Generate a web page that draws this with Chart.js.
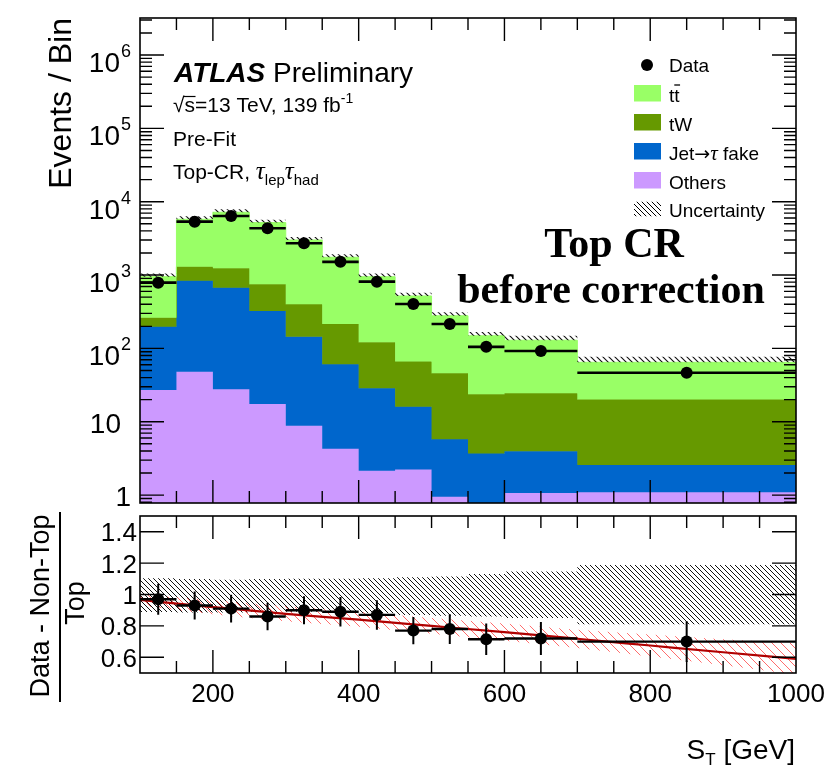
<!DOCTYPE html>
<html>
<head>
<meta charset="utf-8">
<script src="https://cdn.jsdelivr.net/npm/chart.js@4.4.1/dist/chart.umd.min.js"></script>
<style>
  html, body { margin: 0; padding: 0; background: #ffffff; }
  #wrap { position: relative; width: 835px; height: 768px; overflow: hidden; background: #ffffff; }
  #mainPanel { position: absolute; left: 0; top: 0; }
  #ratioPanel { position: absolute; left: 0; top: 510px; }
</style>
</head>
<body>
<div id="wrap">
  <canvas id="mainPanel" width="835" height="510"></canvas>
  <canvas id="ratioPanel" width="835" height="258"></canvas>
</div>
<script>
// ---- S_T binning (GeV) ----
const binEdges = [100, 150, 200, 250, 300, 350, 400, 450, 500, 550, 600, 700, 1000];

// ---- Event yields per bin ----
const dataYield   = [788, 5350, 6400, 4350, 2720, 1515, 813, 403, 215, 105, 92, 46.6];
const ttbarYield  = [688, 4470, 5950, 4440, 2611, 1535, 828, 453, 233, 125, 105, 44.5];
const tWYield     = [64, 461, 567, 425, 255, 154, 93, 50, 40, 20, 20.4, 17.6];
const fakeYield   = [171, 791, 645, 307, 135, 56.4, 26.5, 13.8, 4.8, 3.4, 2.9, 1.48];
const othersYield = [27, 48, 27.7, 17.4, 8.8, 4.3, 2.15, 2.24, 0.95, 0.3, 1.07, 1.09];

// ---- Relative MC uncertainty band (edges) ----
const uncBandLo = [0.889, 0.885, 0.885, 0.89, 0.89, 0.885, 0.88, 0.87, 0.865, 0.86, 0.85, 0.81];
const uncBandHi = [1.104, 1.098, 1.094, 1.098, 1.10, 1.10, 1.104, 1.11, 1.115, 1.13, 1.146, 1.188];

// ---- (Data - Non-Top) / Top ----
const ratioValues = [0.97, 0.93, 0.91, 0.86, 0.90, 0.89, 0.87, 0.77, 0.78, 0.715, 0.72, 0.70];
const ratioErrors = [0.099, 0.089, 0.089, 0.088, 0.089, 0.094, 0.094, 0.087, 0.095, 0.10, 0.105, 0.13];

// ---- Correction fit and its band ----
const fitX       = [100, 200, 300, 400, 500, 600, 700, 800, 900, 1000];
const fitValues  = [0.965, 0.92, 0.877, 0.84, 0.80, 0.76, 0.718, 0.675, 0.632, 0.59];
const fitBandLo  = [0.93, 0.875, 0.83, 0.795, 0.75, 0.705, 0.66, 0.605, 0.55, 0.49];
const fitBandHi  = [1.0, 0.965, 0.925, 0.89, 0.85, 0.815, 0.775, 0.745, 0.715, 0.69];

// ---- Axis ticks ----
const logDecades = [0, 1, 2, 3, 4, 5, 6];
const xTickLabels = [200, 400, 600, 800, 1000];
const ratioTickLabels = [0.6, 0.8, 1, 1.2, 1.4];

// ---- Colours ----
const colTtbar = '#99ff66';
const colTW = '#669900';
const colFake = '#0066cc';
const colOthers = '#cc99ff';

const SANS = '"Liberation Sans", Arial, Helvetica, sans-serif';
const SERIF = '"Liberation Serif", "Times New Roman", serif';

const nBins = dataYield.length;
const binCenters = binEdges.slice(0, -1).map((e, i) => (e + binEdges[i + 1]) / 2);

// cumulative stack boundaries
const stackOthers = othersYield.slice();
const stackFake = stackOthers.map((v, i) => v + fakeYield[i]);
const stackTW = stackFake.map((v, i) => v + tWYield[i]);
const stackTotal = stackTW.map((v, i) => v + ttbarYield[i]);

function stepLine(values) {
  const pts = values.map((v, i) => ({ x: binEdges[i], y: v }));
  pts.push({ x: binEdges[nBins], y: values[nBins - 1] });
  return pts;
}
function hBars(values) {
  const pts = [];
  values.forEach((v, i) => {
    pts.push({ x: binEdges[i], y: v }, { x: binEdges[i + 1], y: v }, { x: binEdges[i + 1], y: null });
  });
  return pts;
}
function vBars(values, errs) {
  const pts = [];
  values.forEach((v, i) => {
    pts.push({ x: binCenters[i], y: v - errs[i] }, { x: binCenters[i], y: v + errs[i] }, { x: binCenters[i], y: null });
  });
  return pts;
}

function makeHatch(ctx, size, color, lw) {
  const c = document.createElement('canvas');
  c.width = size; c.height = size;
  const g = c.getContext('2d');
  g.strokeStyle = color; g.lineWidth = lw;
  g.beginPath();
  g.moveTo(-1, -1); g.lineTo(size + 1, size + 1);
  g.moveTo(-1, size - 1); g.lineTo(1, size + 1);
  g.moveTo(size - 1, -1); g.lineTo(size + 1, 1);
  g.stroke();
  return ctx.createPattern(c, 'repeat');
}

// draw a run of text pieces with individual fonts / vertical offsets
function drawRich(ctx, x, y, parts, align) {
  ctx.save();
  ctx.textAlign = 'left';
  ctx.textBaseline = 'alphabetic';
  let total = 0;
  parts.forEach(p => { ctx.font = p.f; total += ctx.measureText(p.t).width + (p.dx || 0); });
  let cx = x;
  if (align === 'right') cx = x - total;
  else if (align === 'center') cx = x - total / 2;
  const spans = [];
  parts.forEach(p => {
    ctx.font = p.f;
    cx += (p.dx || 0);
    ctx.fillText(p.t, cx, y + (p.dy || 0));
    const w = ctx.measureText(p.t).width;
    spans.push({ x0: cx, x1: cx + w });
    cx += w;
  });
  ctx.restore();
  return spans;
}

function drawFrameTicks(ctx, area, xScale, yScale, yMajor, yMinor, lw) {
  ctx.save();
  ctx.strokeStyle = '#000';
  ctx.lineWidth = lw;
  ctx.beginPath();
  for (let v = 150; v < 1000; v += 50) {
    const px = xScale.getPixelForValue(v);
    const len = (v % 200 === 0) ? 23 : 12;
    ctx.moveTo(px, area.top); ctx.lineTo(px, area.top + len);
    ctx.moveTo(px, area.bottom); ctx.lineTo(px, area.bottom - len);
  }
  yMajor.forEach(v => {
    const py = yScale.getPixelForValue(v);
    ctx.moveTo(area.left, py); ctx.lineTo(area.left + 24, py);
    ctx.moveTo(area.right, py); ctx.lineTo(area.right - 24, py);
  });
  yMinor.forEach(v => {
    const py = yScale.getPixelForValue(v);
    ctx.moveTo(area.left, py); ctx.lineTo(area.left + 12, py);
    ctx.moveTo(area.right, py); ctx.lineTo(area.right - 12, py);
  });
  ctx.stroke();
  ctx.lineWidth = 1.6;
  ctx.strokeRect(area.left, area.top, area.right - area.left, area.bottom - area.top);
  ctx.restore();
}

// ================= Main (event yield) panel =================
const mainCanvas = document.getElementById('mainPanel');
const mainCtx = mainCanvas.getContext('2d');
const blackHatch = makeHatch(mainCtx, 5, '#000000', 1);
const sparseHatch = makeHatch(mainCtx, 6, '#111111', 1.1);

const mainDecor = {
  id: 'mainDecor',
  afterDraw(chart) {
    const ctx = chart.ctx;
    const area = chart.chartArea;
    const xs = chart.scales.x, ys = chart.scales.y;
    const majors = [], minors = [];
    for (let d = -1; d <= 6; d++) {
      const base = Math.pow(10, d);
      if (d >= 0) majors.push(base);
      for (let k = 2; k <= 9; k++) {
        const v = k * base;
        if (v >= ys.min && v <= ys.max) minors.push(v);
      }
    }
    drawFrameTicks(ctx, area, xs, ys, majors, minors, 1.4);

    // y tick labels
    ctx.save();
    ctx.fillStyle = '#000';
    logDecades.forEach(d => {
      const py = ys.getPixelForValue(Math.pow(10, d));
      if (d === 0) {
        drawRich(ctx, 131, py + 11, [{ t: '1', f: '28px ' + SANS }], 'right');
      } else if (d === 1) {
        drawRich(ctx, 121, py + 11, [{ t: '10', f: '28px ' + SANS }], 'right');
      } else {
        drawRich(ctx, 120, py + 17, [{ t: '10', f: '28px ' + SANS }], 'right');
        drawRich(ctx, 121, py + 2, [{ t: String(d), f: '18px ' + SANS }], 'left');
      }
    });

    // y axis title
    ctx.save();
    ctx.translate(71, 18);
    ctx.rotate(-Math.PI / 2);
    ctx.font = '32px ' + SANS;
    ctx.textAlign = 'right';
    ctx.textBaseline = 'alphabetic';
    ctx.fillText('Events / Bin', 0, 0);
    ctx.restore();

    // ATLAS label block
    drawRich(ctx, 174, 82, [
      { t: 'ATLAS', f: 'italic bold 28px ' + SANS },
      { t: ' Preliminary', f: '28px ' + SANS }
    ], 'left');
    const sp = drawRich(ctx, 173, 112, [
      { t: '\u221A', f: '21px ' + SANS },
      { t: 's', f: '21px ' + SANS },
      { t: '=13 TeV, 139 fb', f: '21px ' + SANS },
      { t: '-1', f: '14px ' + SANS, dy: -9 }
    ], 'left');
    ctx.lineWidth = 1.2;
    ctx.beginPath();
    ctx.moveTo(sp[0].x1 - 1, 96.5); ctx.lineTo(sp[1].x1 + 0.5, 96.5);
    ctx.stroke();
    drawRich(ctx, 173, 146, [{ t: 'Pre-Fit', f: '21px ' + SANS }], 'left');
    drawRich(ctx, 173, 179, [
      { t: 'Top-CR, ', f: '21px ' + SANS },
      { t: '\u03C4', f: 'italic 25px ' + SERIF },
      { t: 'lep', f: '15px ' + SANS, dy: 6 },
      { t: '\u03C4', f: 'italic 25px ' + SERIF },
      { t: 'had', f: '15px ' + SANS, dy: 6 }
    ], 'left');

    // legend
    const lx = 669, bx0 = 634, bx1 = 661;
    const rows = [71.5, 101.5, 130.5, 159.5, 188.5, 216.5];
    const lf = '19px ' + SANS;
    ctx.beginPath();
    ctx.arc(647, rows[0] - 6.5, 6, 0, Math.PI * 2);
    ctx.fill();
    drawRich(ctx, lx, rows[0], [{ t: 'Data', f: lf }], 'left');
    const boxes = [[colTtbar, 1], [colTW, 2], [colFake, 3], [colOthers, 4]];
    boxes.forEach(([c, r]) => {
      ctx.fillStyle = c;
      ctx.fillRect(bx0, rows[r] - 16.5, bx1 - bx0, 16.5);
    });
    ctx.fillStyle = '#000';
    const tt = drawRich(ctx, lx, rows[1], [{ t: 't', f: lf }, { t: 't', f: lf }], 'left');
    ctx.lineWidth = 1.3;
    ctx.beginPath();
    ctx.moveTo(tt[1].x0, rows[1] - 16.5); ctx.lineTo(tt[1].x1 + 0.5, rows[1] - 16.5);
    ctx.stroke();
    drawRich(ctx, lx, rows[2], [{ t: 'tW', f: lf }], 'left');
    drawRich(ctx, lx, rows[3], [
      { t: 'Jet', f: lf },
      { t: '\u2192', f: '19px "DejaVu Sans", sans-serif' },
      { t: '\u03C4', f: 'italic 21px ' + SERIF },
      { t: ' fake', f: lf }
    ], 'left');
    drawRich(ctx, lx, rows[4], [{ t: 'Others', f: lf }], 'left');
    ctx.save();
    ctx.beginPath();
    ctx.rect(bx0, rows[5] - 15, bx1 - bx0, 15);
    ctx.clip();
    ctx.fillStyle = blackHatch;
    ctx.fillRect(bx0, rows[5] - 15, bx1 - bx0, 15);
    ctx.restore();
    drawRich(ctx, lx, rows[5], [{ t: 'Uncertainty', f: lf }], 'left');

    // region annotation
    drawRich(ctx, 614, 257, [{ t: 'Top CR', f: 'bold 42px ' + SERIF }], 'center');
    drawRich(ctx, 611, 303, [{ t: 'before correction', f: 'bold 42px ' + SERIF }], 'center');
    ctx.restore();
  }
};

const lineBase = { type: 'line', pointRadius: 0, pointHoverRadius: 0, tension: 0 };

new Chart(mainCtx, {
  type: 'line',
  data: {
    datasets: [
      Object.assign({}, lineBase, { label: 'Others', data: stepLine(stackOthers), stepped: true,
        fill: 'start', backgroundColor: colOthers, borderColor: colOthers, borderWidth: 1, order: 10 }),
      Object.assign({}, lineBase, { label: 'Jet\u2192\u03C4 fake', data: stepLine(stackFake), stepped: true,
        fill: '-1', backgroundColor: colFake, borderColor: colFake, borderWidth: 1, order: 9 }),
      Object.assign({}, lineBase, { label: 'tW', data: stepLine(stackTW), stepped: true,
        fill: '-1', backgroundColor: colTW, borderColor: colTW, borderWidth: 1, order: 8 }),
      Object.assign({}, lineBase, { label: 'tt\u0304', data: stepLine(stackTotal), stepped: true,
        fill: '-1', backgroundColor: colTtbar, borderColor: colTtbar, borderWidth: 1, order: 7 }),
      // upper half of the uncertainty band, hatched above the stack
      Object.assign({}, lineBase, { label: 'Uncertainty', data: stepLine(stackTotal.map((v, i) => v * uncBandHi[i])), stepped: true,
        fill: '-1', backgroundColor: sparseHatch, borderColor: 'rgba(0,0,0,0)', borderWidth: 1, order: 5 }),
      Object.assign({}, lineBase, { label: 'Data bins', data: hBars(dataYield), spanGaps: false,
        borderColor: '#000', borderWidth: 2.6, fill: false, order: 2 }),
      Object.assign({}, lineBase, { label: 'Data', data: dataYield.map((v, i) => ({ x: binCenters[i], y: v })),
        showLine: false, pointRadius: 6, pointBackgroundColor: '#000', pointBorderColor: '#000', pointBorderWidth: 0, order: 1 })
    ]
  },
  options: {
    responsive: false,
    animation: false,
    events: [],
    layout: { padding: { left: 140, right: 39, top: 18, bottom: 7 } },
    scales: {
      x: { type: 'linear', min: 100, max: 1000, display: false },
      y: { type: 'logarithmic', min: 0.78, max: 3.2e6, display: false }
    },
    plugins: { legend: { display: false }, tooltip: { enabled: false } }
  },
  plugins: [mainDecor]
});

// ================= Ratio panel =================
const ratioCanvas = document.getElementById('ratioPanel');
const ratioCtx = ratioCanvas.getContext('2d');
const ratioHatch = makeHatch(ratioCtx, 5, '#111111', 1);
const redHatch = makeHatch(ratioCtx, 9, 'rgba(255,100,100,0.95)', 1);

const ratioDecor = {
  id: 'ratioDecor',
  afterDraw(chart) {
    const ctx = chart.ctx;
    const area = chart.chartArea;
    const xs = chart.scales.x, ys = chart.scales.y;
    drawFrameTicks(ctx, area, xs, ys, ratioTickLabels, [], 1.4);
    ctx.save();
    ctx.fillStyle = '#000';
    ratioTickLabels.forEach(v => {
      const py = ys.getPixelForValue(v);
      drawRich(ctx, 137, py + 9.5, [{ t: String(v), f: '26px ' + SANS }], 'right');
    });
    xTickLabels.forEach(v => {
      const px = xs.getPixelForValue(v);
      drawRich(ctx, px, 191.5, [{ t: String(v), f: '26px ' + SANS }], 'center');
    });
    drawRich(ctx, 795, 249, [
      { t: 'S', f: '28px ' + SANS },
      { t: 'T', f: '17px ' + SANS, dy: 6 },
      { t: ' [GeV]', f: '28px ' + SANS }
    ], 'right');

    // y title as a fraction
    ctx.save();
    ctx.translate(49, 96);
    ctx.rotate(-Math.PI / 2);
    ctx.font = '27px ' + SANS;
    ctx.textAlign = 'center';
    ctx.fillText('Data - Non-Top', 0, 0);
    ctx.restore();
    ctx.save();
    ctx.translate(84, 93);
    ctx.rotate(-Math.PI / 2);
    ctx.font = '27px ' + SANS;
    ctx.textAlign = 'center';
    ctx.fillText('Top', 0, 0);
    ctx.restore();
    ctx.lineWidth = 2;
    ctx.beginPath();
    ctx.moveTo(60, 2); ctx.lineTo(60, 192);
    ctx.stroke();
    ctx.restore();
  }
};

new Chart(ratioCtx, {
  type: 'line',
  data: {
    datasets: [
      Object.assign({}, lineBase, { label: 'MC band low', data: stepLine(uncBandLo), stepped: true,
        fill: false, borderColor: 'rgba(0,0,0,0)', borderWidth: 1, order: 10 }),
      Object.assign({}, lineBase, { label: 'MC band', data: stepLine(uncBandHi), stepped: true,
        fill: '-1', backgroundColor: ratioHatch, borderColor: 'rgba(0,0,0,0)', borderWidth: 1, order: 9 }),
      Object.assign({}, lineBase, { label: 'Fit band low', data: fitX.map((x, i) => ({ x, y: fitBandLo[i] })),
        fill: false, borderColor: 'rgba(0,0,0,0)', borderWidth: 1, cubicInterpolationMode: 'monotone', order: 8 }),
      Object.assign({}, lineBase, { label: 'Fit band', data: fitX.map((x, i) => ({ x, y: fitBandHi[i] })),
        fill: '-1', backgroundColor: redHatch, borderColor: 'rgba(0,0,0,0)', borderWidth: 1, cubicInterpolationMode: 'monotone', order: 7 }),
      Object.assign({}, lineBase, { label: 'Fit', data: fitX.map((x, i) => ({ x, y: fitValues[i] })),
        fill: false, borderColor: '#b00000', borderWidth: 2.2, cubicInterpolationMode: 'monotone', order: 4 }),
      Object.assign({}, lineBase, { label: 'Ratio bins', data: hBars(ratioValues), spanGaps: false,
        borderColor: '#000', borderWidth: 2.4, fill: false, order: 3 }),
      Object.assign({}, lineBase, { label: 'Ratio errors', data: vBars(ratioValues, ratioErrors), spanGaps: false,
        borderColor: '#000', borderWidth: 2, fill: false, order: 2 }),
      Object.assign({}, lineBase, { label: 'Ratio', data: ratioValues.map((v, i) => ({ x: binCenters[i], y: v })),
        showLine: false, pointRadius: 6, pointBackgroundColor: '#000', pointBorderColor: '#000', pointBorderWidth: 0, order: 1 })
    ]
  },
  options: {
    responsive: false,
    animation: false,
    events: [],
    layout: { padding: { left: 140, right: 39, top: 2, bottom: 95 } },
    scales: {
      x: { type: 'linear', min: 100, max: 1000, display: false },
      y: { type: 'linear', min: 0.5, max: 1.5, display: false }
    },
    plugins: { legend: { display: false }, tooltip: { enabled: false } }
  },
  plugins: [ratioDecor]
});
</script>
</body>
</html>
